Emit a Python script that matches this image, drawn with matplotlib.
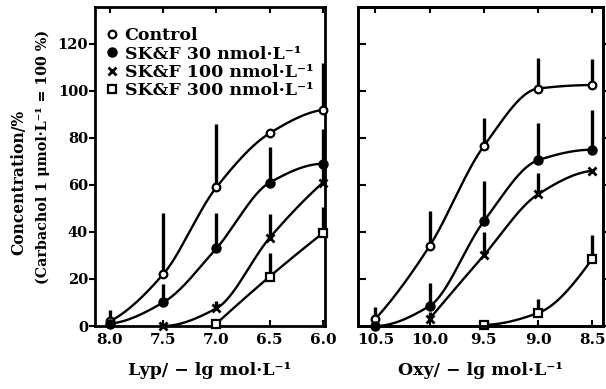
import numpy as np
import matplotlib
matplotlib.use("Agg")
import matplotlib.pyplot as plt

plt.rcParams['font.family'] = ['DejaVu Serif']
plt.rcParams['font.weight'] = 'bold'

# ---------------- data ----------------
series_names = ["Control", "SK&F 30 nmol·L⁻¹", "SK&F 100 nmol·L⁻¹", "SK&F 300 nmol·L⁻¹"]

lyp_ticks = [8.0, 7.5, 7.0, 6.5, 6.0]
lyp_x_ctrl = [8.0, 7.5, 7.0, 6.5, 6.0]
lyp_y_ctrl = [2, 22, 59, 82, 92]
lyp_e_ctrl = [5, 26, 27, 0, 20]
lyp_x_30 = [8.0, 7.5, 7.0, 6.5, 6.0]
lyp_y_30 = [1, 10, 33, 61, 69]
lyp_e_30 = [0, 8, 15, 15, 15]
lyp_x_100 = [7.5, 7.0, 6.5, 6.0]
lyp_y_100 = [0, 7.5, 37.5, 61]
lyp_e_100 = [0, 3, 10, 6]
lyp_x_300 = [7.0, 6.5, 6.0]
lyp_y_300 = [1, 21, 39.5]
lyp_e_300 = [0, 10, 11]

oxy_ticks = [10.5, 10.0, 9.5, 9.0, 8.5]
oxy_x_ctrl = [10.5, 10.0, 9.5, 9.0, 8.5]
oxy_y_ctrl = [3, 34, 76.5, 101, 102.5]
oxy_e_ctrl = [5, 15, 12, 13, 11]
oxy_x_30 = [10.5, 10.0, 9.5, 9.0, 8.5]
oxy_y_30 = [0, 8.5, 44.5, 70.5, 75]
oxy_e_30 = [0, 10, 17, 16, 17]
oxy_x_100 = [10.0, 9.5, 9.0, 8.5]
oxy_y_100 = [3, 30, 56, 66]
oxy_e_100 = [3, 10, 9, 0]
oxy_x_300 = [9.5, 9.0, 8.5]
oxy_y_300 = [0.5, 5.5, 28.5]
oxy_e_300 = [2, 6, 10]

y_ticks = [0, 20, 40, 60, 80, 100, 120]

markers = [dict(marker='o', ms=5.5, mfc='white', mec='black', mew=1.6),
           dict(marker='o', ms=6.5, mfc='black', mec='black', mew=1.0),
           dict(marker='x', ms=6, mfc='black', mec='black', mew=2.0),
           dict(marker='s', ms=5.5, mfc='white', mec='black', mew=1.6)]


def pchip(x, y, xs):
    x = np.asarray(x, float); y = np.asarray(y, float)
    o = np.argsort(x); x = x[o]; y = y[o]
    h = np.diff(x); d = np.diff(y) / h
    n = len(x)
    m = np.zeros(n)
    if n == 2:
        m[:] = d[0]
    else:
        for k in range(1, n - 1):
            if d[k - 1] * d[k] <= 0:
                m[k] = 0
            else:
                w1 = 2 * h[k] + h[k - 1]; w2 = h[k] + 2 * h[k - 1]
                m[k] = (w1 + w2) / (w1 / d[k - 1] + w2 / d[k])
        m[0] = ((2 * h[0] + h[1]) * d[0] - h[0] * d[1]) / (h[0] + h[1])
        if np.sign(m[0]) != np.sign(d[0]):
            m[0] = 0
        m[-1] = ((2 * h[-1] + h[-2]) * d[-1] - h[-1] * d[-2]) / (h[-1] + h[-2])
        if np.sign(m[-1]) != np.sign(d[-1]):
            m[-1] = 0
    idx = np.clip(np.searchsorted(x, xs) - 1, 0, n - 2)
    t = (xs - x[idx]) / h[idx]
    h00 = 2 * t**3 - 3 * t**2 + 1; h10 = t**3 - 2 * t**2 + t
    h01 = -2 * t**3 + 3 * t**2; h11 = t**3 - t**2
    return h00 * y[idx] + h10 * h[idx] * m[idx] + h01 * y[idx + 1] + h11 * h[idx] * m[idx + 1]


fig = plt.figure(figsize=(6.06, 3.89), dpi=100)
axL = fig.add_axes([95 / 606, 63 / 389, 230 / 606, 319 / 389])
axR = fig.add_axes([358 / 606, 63 / 389, 245 / 606, 319 / 389])

left_sets = [(lyp_x_ctrl, lyp_y_ctrl, lyp_e_ctrl), (lyp_x_30, lyp_y_30, lyp_e_30),
             (lyp_x_100, lyp_y_100, lyp_e_100), (lyp_x_300, lyp_y_300, lyp_e_300)]
right_sets = [(oxy_x_ctrl, oxy_y_ctrl, oxy_e_ctrl), (oxy_x_30, oxy_y_30, oxy_e_30),
              (oxy_x_100, oxy_y_100, oxy_e_100), (oxy_x_300, oxy_y_300, oxy_e_300)]

for ax, sets in ((axL, left_sets), (axR, right_sets)):
    for i, (xs, ys, es) in enumerate(sets):
        xs = np.asarray(xs, float); ys = np.asarray(ys, float); es = np.asarray(es, float)
        xx = np.linspace(xs.min(), xs.max(), 200)
        ax.plot(xx, pchip(xs, ys, xx), color='black', lw=1.7, zorder=2)
        ax.errorbar(xs, ys, yerr=[np.zeros_like(es), es], fmt='none', ecolor='black',
                    elinewidth=2.4, capsize=0, zorder=2)
        ax.plot(xs, ys, ls='none', color='black', zorder=3, clip_on=False,
                label=series_names[i], **markers[i])
    ax.set_ylim(0, 135.7)
    for s in ax.spines.values():
        s.set_linewidth(2.0)

axL.set_xlim(8.14, 5.98)
axR.set_xlim(10.66, 8.40)
axL.set_xticks(lyp_ticks)
axL.set_xticklabels([f"{v:.1f}" for v in lyp_ticks])
axR.set_xticks(oxy_ticks)
axR.set_xticklabels([f"{v:.1f}" for v in oxy_ticks])

axL.set_yticks(y_ticks)
axL.set_yticklabels([str(v) for v in y_ticks])
axR.set_yticks(y_ticks)
axR.set_yticklabels([])

for ax in (axL, axR):
    ax.tick_params(axis='x', direction='in', top=True, bottom=True, length=4, width=1.5,
                   labelsize=11, pad=5)
axL.tick_params(axis='y', direction='out', left=True, right=False, length=4, width=1.5,
                labelsize=10.5, pad=1)
axR.tick_params(axis='y', direction='in', left=True, right=False, length=6, width=1.5)

axR2 = axR.twinx()
axR2.set_ylim(axR.get_ylim())
axR2.set_yticks(y_ticks)
axR2.set_yticklabels([])
axR2.tick_params(axis='y', direction='out', right=True, length=4, width=1.5)
for s in axR2.spines.values():
    s.set_linewidth(2.0)

for ax in (axL, axR):
    for lab in ax.get_xticklabels() + ax.get_yticklabels():
        lab.set_fontweight('bold')

axL.set_xlabel("Lyp/ − lg mol·L⁻¹", fontsize=12.5, fontweight='bold', labelpad=11)
axR.set_xlabel("Oxy/ − lg mol·L⁻¹", fontsize=12.5, fontweight='bold', labelpad=11)

fig.text(19 / 606, 1 - 182 / 389, "Concentration/%", rotation=90, ha='center', va='center',
         fontsize=11.2, fontweight='bold')
fig.text(43 / 606, 1 - 157 / 389, "(Carbachol 1 μmol·L⁻¹ = 100 %)", rotation=90,
         ha='center', va='center', fontsize=10.3, fontweight='bold')

leg = axL.legend(loc='upper left', bbox_to_anchor=(0.0, 0.975), frameon=False,
                 handlelength=0.6, handletextpad=0.4, labelspacing=0.08,
                 borderaxespad=0.3, prop={'weight': 'bold', 'size': 12.5})

fig.savefig("out.png", dpi=100)
